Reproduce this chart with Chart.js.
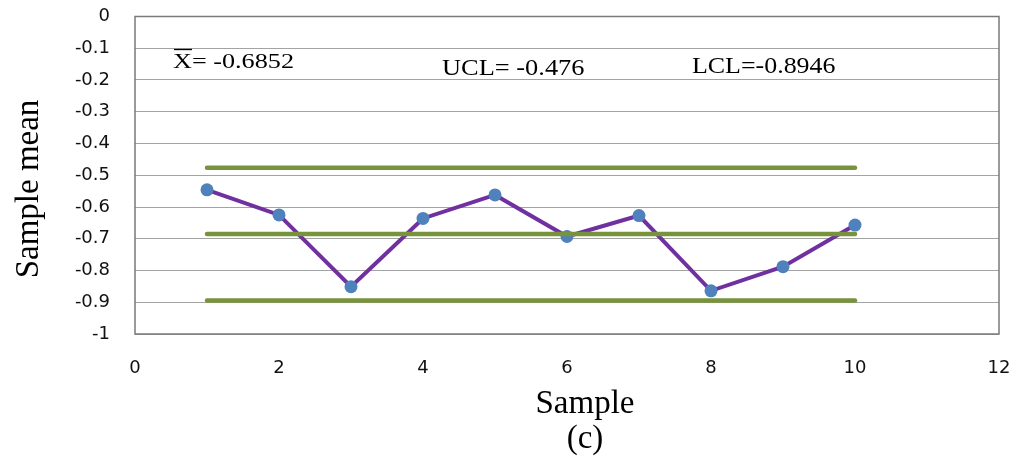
<!DOCTYPE html>
<html>
<head>
<meta charset="utf-8">
<script src="https://cdn.jsdelivr.net/npm/chart.js@4/dist/chart.umd.min.js"></script>
<style>
  html, body { margin: 0; padding: 0; background: #fff; }
  #wrap { width: 1016px; height: 463px; }
</style>
</head>
<body>
<div id="wrap"><canvas id="xbar" width="1016" height="463"></canvas></div>
<script>
// sample means (x-bar chart)
const samples = [1, 2, 3, 4, 5, 6, 7, 8, 9, 10];
const means = [-0.546, -0.625, -0.851, -0.636, -0.562, -0.693, -0.627, -0.864, -0.788, -0.657];

// control limits
const centerLine = -0.6852;
const ucl = -0.476;
const lcl = -0.8946;

const xTicks = [0, 2, 4, 6, 8, 10, 12];
const yTicks = [0, -0.1, -0.2, -0.3, -0.4, -0.5, -0.6, -0.7, -0.8, -0.9, -1];

const limitStart = samples[0];
const limitEnd = samples[samples.length - 1];

function limitLine(value) {
    return [{ x: limitStart, y: value }, { x: limitEnd, y: value }];
}

// frame, labels and axis titles
const decorations = {
    id: 'decorations',
    afterDraw(chart) {
        const ctx = chart.ctx;
        const area = chart.chartArea;

        ctx.save();
        ctx.strokeStyle = '#7a7a7a';
        ctx.lineWidth = 1.5;
        ctx.strokeRect(area.left, area.top, area.right - area.left, area.bottom - area.top);

        ctx.fillStyle = '#000';
        ctx.textBaseline = 'alphabetic';

        const label = (text, x, y, size, stretch) => {
            ctx.save();
            ctx.font = size + 'px "Liberation Serif", "Times New Roman", serif';
            ctx.translate(x, y);
            ctx.scale(stretch, 1);
            ctx.textAlign = 'left';
            ctx.fillText(text, 0, 0);
            ctx.restore();
        };

        label('X= -0.6852', 173, 68, 20, 1.31);
        // bar over the X
        ctx.strokeStyle = '#000';
        ctx.lineWidth = 1.3;
        ctx.beginPath();
        ctx.moveTo(174, 49.5);
        ctx.lineTo(192, 49.5);
        ctx.stroke();

        label('UCL= -0.476', 442, 75, 24, 1.1);
        label('LCL=-0.8946', 692, 73, 24, 1.08);

        ctx.font = '33px "Liberation Serif", "Times New Roman", serif';
        ctx.textAlign = 'center';
        ctx.fillText('Sample', 585, 413);
        ctx.fillText('(c)', 585, 448);

        ctx.translate(38, 189);
        ctx.rotate(-Math.PI / 2);
        ctx.fillText('Sample mean', 0, 0);
        ctx.restore();
    }
};

const tickFont = { family: '"DejaVu Sans", sans-serif', size: 18 };

new Chart(document.getElementById('xbar'), {
    type: 'scatter',
    data: {
        datasets: [
            {
                label: 'UCL',
                data: limitLine(ucl),
                showLine: true,
                borderColor: '#77933c',
                borderWidth: 4.5,
                borderCapStyle: 'round',
                pointRadius: 0,
                order: 1
            },
            {
                label: 'Center',
                data: limitLine(centerLine),
                showLine: true,
                borderColor: '#77933c',
                borderWidth: 4.5,
                borderCapStyle: 'round',
                pointRadius: 0,
                order: 1
            },
            {
                label: 'LCL',
                data: limitLine(lcl),
                showLine: true,
                borderColor: '#77933c',
                borderWidth: 4.5,
                borderCapStyle: 'round',
                pointRadius: 0,
                order: 1
            },
            {
                label: 'Sample mean',
                data: samples.map((s, i) => ({ x: s, y: means[i] })),
                showLine: true,
                borderColor: '#7030a0',
                borderWidth: 4,
                pointRadius: 6.5,
                pointBackgroundColor: '#4f81bd',
                pointBorderWidth: 0,
                order: 2
            }
        ]
    },
    options: {
        responsive: false,
        animation: false,
        layout: { padding: { top: 16.5, right: 17, left: 0, bottom: 0 } },
        plugins: {
            legend: { display: false },
            tooltip: { enabled: false }
        },
        scales: {
            x: {
                type: 'linear',
                min: xTicks[0],
                max: xTicks[xTicks.length - 1],
                afterBuildTicks: scale => { scale.ticks = xTicks.map(v => ({ value: v })); },
                afterFit: scale => {
                    scale.height = 129;
                    scale.paddingLeft = 0;
                    scale.paddingRight = 0;
                },
                grid: { display: false, drawTicks: false },
                border: { display: false },
                ticks: {
                    padding: 24,
                    color: '#111',
                    font: tickFont,
                    maxRotation: 0
                }
            },
            y: {
                type: 'linear',
                min: -1,
                max: 0,
                afterBuildTicks: scale => { scale.ticks = yTicks.map(v => ({ value: v })); },
                afterFit: scale => {
                    scale.width = 135;
                    scale.paddingTop = 0;
                    scale.paddingBottom = 0;
                },
                grid: { color: '#a3a3a3', lineWidth: 1, drawTicks: false },
                border: { display: false },
                ticks: {
                    padding: 25,
                    color: '#111',
                    font: tickFont,
                    callback: v => String(Math.round(v * 10) / 10)
                }
            }
        }
    },
    plugins: [decorations]
});
</script>
</body>
</html>
